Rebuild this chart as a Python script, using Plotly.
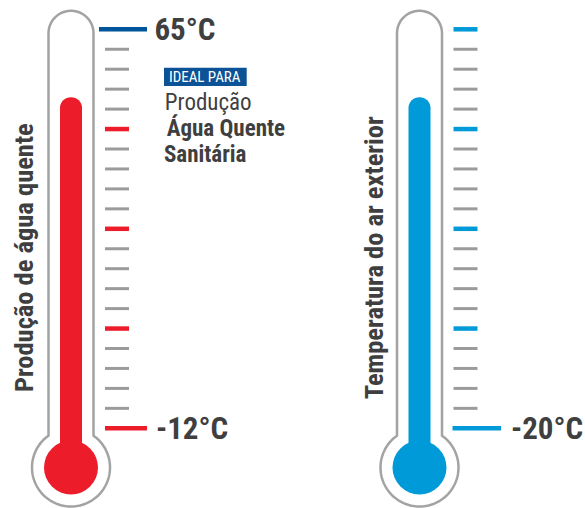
import numpy as np
import plotly.graph_objects as go

# ---------------- data ----------------
thermometer_titles = ["Produção de água quente", "Temperatura do ar exterior"]
scale_top_labels = ["65°C", ""]
scale_bottom_labels = ["-12°C", "-20°C"]
scale_steps = 20            # intervals between the bottom and the top mark
major_every = 5             # coloured mark every n steps
fill_level = [16.6, 16.6]   # height of the liquid column, in scale steps
fill_colors = ["#ED1C2B", "#009AD8"]
top_mark_colors = ["#00549A", "#009AD8"]
info_tag = "IDEAL PARA"
info_lines = ["Produção", "Água Quente", "Sanitária"]
info_bold = [False, True, True]

# ---------------- layout constants (pixels) ----------------
W, H = 585, 508
PX_TOP, PX_BOTTOM = 29.3, 428.3               # pixel rows of top / bottom marks
px_per_step = (PX_BOTTOM - PX_TOP) / scale_steps
y_lo = (PX_BOTTOM - H) / px_per_step
y_hi = PX_BOTTOM / px_per_step

def step_of_px(p):
    return (PX_BOTTOM - p) / px_per_step

centers = [71.0, 419.5]
tube_half = 22.5
tube_top = 10.8
bulb_cy = 467.5
bulb_r = 39.0
fill_r = 27.0
col_w = 22
GRAY = "#9B9B9B"
OUTLINE = "#A3A3A3"
TEXT = "#3F3F3F"
FONT = "Roboto, sans-serif"

def fnt(size, bold=False, color=TEXT):
    return dict(family=FONT, size=size, color=color,
                weight="bold" if bold else "normal")

fig = go.Figure()

# liquid columns (through the step axis)
base = step_of_px(bulb_cy)
fig.add_trace(go.Bar(
    x=centers, y=[lv - base for lv in fill_level], base=[base, base],
    width=col_w, marker=dict(color=fill_colors, line=dict(width=0), cornerradius=col_w / 2),
    yaxis="y", xaxis="x", showlegend=False, hoverinfo="skip"))

# minor tick marks
minor_x, minor_y = [], []
for i, c in enumerate(centers):
    for s in range(scale_steps + 1):
        if s % major_every == 0:
            continue
        minor_x += [c + 34, c + 58, None]
        minor_y += [s, s, None]
fig.add_trace(go.Scatter(x=minor_x, y=minor_y, mode="lines",
                         line=dict(color=GRAY, width=3), showlegend=False, hoverinfo="skip"))

long_start = [[34, 28], [33, 33]]   # [bottom, top] start offsets
long_end = [[76, 76], [81.5, 57.5]]
for i, c in enumerate(centers):
    xs, ys = [], []
    for s in range(major_every, scale_steps + 1, major_every):
        if s == scale_steps and scale_top_labels[i]:
            continue
        xs += [c + 34, c + 58, None]
        ys += [s, s, None]
    xs += [c + long_start[i][0], c + long_end[i][0], None]
    ys += [0, 0, None]
    fig.add_trace(go.Scatter(x=xs, y=ys, mode="lines",
                             line=dict(color=fill_colors[i], width=4.5),
                             showlegend=False, hoverinfo="skip"))
    if scale_top_labels[i]:
        fig.add_trace(go.Scatter(x=[c + long_start[i][1], c + long_end[i][1]],
                                 y=[scale_steps, scale_steps], mode="lines",
                                 line=dict(color=top_mark_colors[i], width=4.5),
                                 showlegend=False, hoverinfo="skip"))

# thermometer glass outline (pixel axis y2)
shapes = []
for c in centers:
    xl, xr = c - tube_half, c + tube_half
    dy = np.sqrt(bulb_r ** 2 - tube_half ** 2)
    yj = bulb_cy - dy
    pts = [(xl, yj), (xl, tube_top + tube_half)]
    for a in np.linspace(np.pi, 2 * np.pi, 40):
        pts.append((c + tube_half * np.cos(a), tube_top + tube_half + tube_half * np.sin(a)))
    pts.append((xr, yj))
    ang_r = np.arctan2(yj - bulb_cy, tube_half)
    ang_l = np.arctan2(yj - bulb_cy, -tube_half)
    for a in np.linspace(ang_r, ang_l + 2 * np.pi, 120)[1:]:
        pts.append((c + bulb_r * np.cos(a), bulb_cy + bulb_r * np.sin(a)))
    path = "M " + " L ".join(f"{x:.2f},{y:.2f}" for x, y in pts) + " Z"
    shapes.append(dict(type="path", path=path, xref="x", yref="y2",
                       line=dict(color=OUTLINE, width=2.5), fillcolor="rgba(0,0,0,0)"))
for i, c in enumerate(centers):
    shapes.append(dict(type="circle", xref="x", yref="y2",
                       x0=c - fill_r, x1=c + fill_r, y0=bulb_cy - fill_r, y1=bulb_cy + fill_r,
                       fillcolor=fill_colors[i], line=dict(width=0)))

# info tag box
shapes.append(dict(type="rect", xref="x", yref="y2", x0=164, x1=246.7, y0=67.7, y1=86,
                   fillcolor="#0B5296", line=dict(width=0)))

annotations = []
for i, c in enumerate(centers):
    if scale_top_labels[i]:
        annotations.append(dict(x=c + 78, y=scale_steps, xref="x", yref="y",
                                text=scale_top_labels[i], showarrow=False,
                                xanchor="left", yanchor="middle", font=fnt(31, True)))
    annotations.append(dict(x=c + 79 if i == 0 else c + 85, y=0, xref="x", yref="y",
                            text=scale_bottom_labels[i], showarrow=False,
                            xanchor="left", yanchor="middle", font=fnt(31, True)))
title_x = [22.5, 373]
for i, t in enumerate(thermometer_titles):
    annotations.append(dict(x=title_x[i], y=258, xref="x", yref="y2", text=t,
                            textangle=-90, showarrow=False, xanchor="center", yanchor="middle",
                            font=fnt(26.5, True)))
annotations.append(dict(x=205.3, y=77, xref="x", yref="y2", text=info_tag, showarrow=False,
                        xanchor="center", yanchor="middle", font=fnt(15, False, "white")))
info_y = [102, 128, 154]
for j, line in enumerate(info_lines):
    annotations.append(dict(x=157, y=info_y[j], xref="x", yref="y2", text=line,
                            showarrow=False, xanchor="left", yanchor="middle",
                            font=fnt(23, info_bold[j])))

fig.update_layout(
    width=W, height=H, margin=dict(l=0, r=0, t=0, b=0),
    paper_bgcolor="white", plot_bgcolor="white",
    xaxis=dict(range=[0, W], visible=False, fixedrange=True),
    yaxis=dict(range=[y_lo, y_hi], visible=False, fixedrange=True),
    yaxis2=dict(range=[H, 0], visible=False, overlaying="y", fixedrange=True),
    shapes=shapes, annotations=annotations, showlegend=False,
)
post = ("document.body.style.margin='0';document.body.style.padding='0';"
        "var st=document.createElement('style');"
        "st.textContent='.annotation-text{font-stretch:75% !important;font-stretch:condensed !important;}';"
        "document.head.appendChild(st);")
fig.write_html("out.html", config={"displayModeBar": False}, post_script=post)
